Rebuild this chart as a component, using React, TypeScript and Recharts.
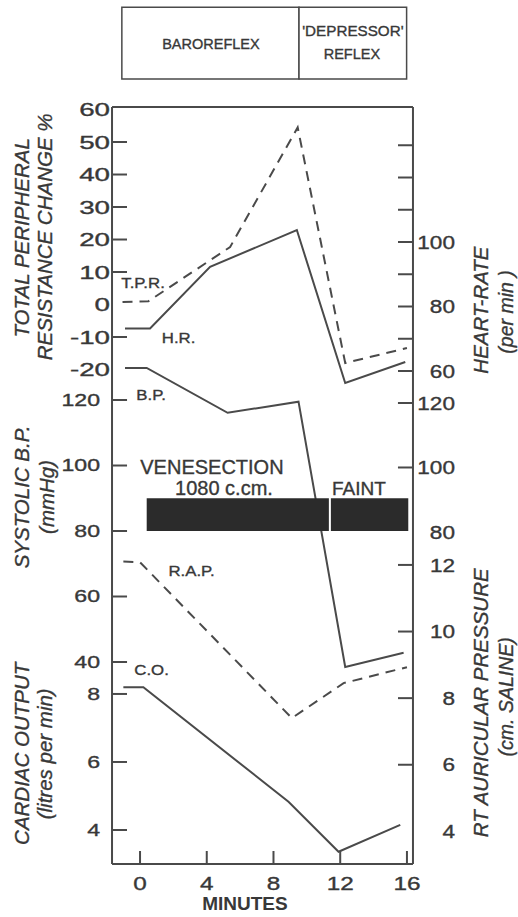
import React from 'react';
import { LineChart, Line, XAxis, YAxis, ReferenceArea, ReferenceDot } from 'recharts';

// ---------------- data ----------------
const MINUTE_TICKS = [0, 4, 8, 12, 16];
const TPR_TICKS_MARKED = [-10, 10, 20, 30, 40, 50];
const TPR_TICKS_UNMARKED = [-20, 0, 60];
const BP_LEFT_TICKS = [40, 60, 80, 100, 120];
const CO_TICKS = [4, 6, 8];
const HR_TICKS = [60, 70, 80, 90, 100, 110, 120, 130];
const HR_LABELLED = [60, 80, 100];
const BP_RIGHT_TICKS_MARKED = [100, 120];
const BP_RIGHT_TICKS_UNMARKED = [80];
const RAP_TICKS_MARKED = [6, 8, 10, 12];
const RAP_TICKS_UNMARKED = [4];

const tprMinutes = [-1.05, 0.5, 5.4, 9.45, 12.3, 16.0];
const tprValues = [0.8, 1.0, 17.7, 54.5, -18.0, -13.4];
const hrMinutes = [-0.9, 0.6, 4.2, 9.4, 12.3, 15.9];
const hrValues = [73.2, 73.2, 92.3, 103.7, 56.3, 62.8];
const bpMinutes = [-0.9, 0.4, 5.25, 9.5, 12.3, 15.8];
const bpValues = [129.8, 129.8, 116.1, 119.5, 38.5, 42.8];
const rapMinutes = [-1.0, 0.0, 9.1, 12.2, 16.0];
const rapValues = [12.1, 12.08, 7.4, 8.45, 8.93];
const coMinutes = [-1.0, 0.2, 8.9, 11.9, 15.6];
const coValues = [8.2, 8.2, 4.83, 3.36, 4.15];

const venesectionMinutes = [0.4, 11.32];
const faintMinutes = [11.44, 16.08];
const bleedBandMmHg = [80, 90];
const baroreflexMinutes = [-1.09, 9.53];
const depressorMinutes = [9.53, 15.98];

// ---------------- axis domains ----------------
const X_DOMAIN: [number, number] = [-1.678, 16.36];
const TPR_DOMAIN: [number, number] = [-172.15, 60.77];
const BPL_DOMAIN: [number, number] = [-21.68, 209.47];
const CO_DOMAIN: [number, number] = [3.0, 25.26];
const HR_DOMAIN: [number, number] = [-92.87, 141.86];
const BPR_DOMAIN: [number, number] = [-22.95, 211.78];
const RAP_DOMAIN: [number, number] = [3.02, 25.75];
const PHASE_BAND_TPR = [69.4, 91.45];

const toPoints = (ts: number[], vs: number[]) => ts.map((t, i) => ({ t, v: vs[i] }));
const tprData = toPoints(tprMinutes, tprValues);
const hrData = toPoints(hrMinutes, hrValues);
const bpData = toPoints(bpMinutes, bpValues);
const rapData = toPoints(rapMinutes, rapValues);
const coData = toPoints(coMinutes, coValues);

// ---------------- styles ----------------
const FONT = '"Liberation Sans", Arial, Helvetica, sans-serif';
const INK = '#383838';
const STROKE = '#4a4a4a';
const BAR = '#2b2b2b';
const DASH = '10 7';
const THIN = 0.01;
const HEAVY = 0.35;

function numTick(size: number, sx: number, anchor: 'start' | 'end' | 'middle', dy: string, show?: number[]) {
  return (props: any) => {
    const { x, y, payload } = props;
    const v = payload.value;
    if (show && !show.includes(v)) return <g />;
    return (
      <text
        transform={`translate(${x},${y}) scale(${sx},1)`}
        textAnchor={anchor}
        dy={dy}
        fontSize={size}
        fontFamily={FONT}
        fill={INK}
        stroke={INK}
        strokeWidth={HEAVY}
      >
        {String(v)}
      </text>
    );
  };
}

type Note = {
  text: string;
  x: number;
  y: number;
  axis: string;
  size: number;
  sx?: number;
  italic?: boolean;
  bold?: boolean;
  rotate?: boolean;
};

const NOTES: Note[] = [
  // phase boxes
  { text: 'BAROREFLEX', x: 4.25, y: 80.15, axis: 'tpr', size: 14.5 },
  { text: "'DEPRESSOR'", x: 12.76, y: 84.15, axis: 'tpr', size: 14.5, sx: 1.05 },
  { text: 'REFLEX', x: 12.7, y: 77.08, axis: 'tpr', size: 14.5 },
  // series labels
  { text: 'T.P.R.', x: 0.18, y: 6.6, axis: 'tpr', size: 15, sx: 1.12 },
  { text: 'H.R.', x: 2.31, y: 70.2, axis: 'hr', size: 15, sx: 1.12 },
  { text: 'B.P.', x: 0.66, y: 121.5, axis: 'bpL', size: 15, sx: 1.12 },
  { text: 'R.A.P.', x: 3.09, y: 11.82, axis: 'rap', size: 15, sx: 1.12 },
  { text: 'C.O.', x: 0.69, y: 8.71, axis: 'co', size: 15, sx: 1.12 },
  // bar labels
  { text: 'VENESECTION', x: 4.31, y: 99.5, axis: 'bpL', size: 20 },
  { text: '1080  c.cm.', x: 5.03, y: 93.1, axis: 'bpL', size: 20 },
  { text: 'FAINT', x: 13.12, y: 93.1, axis: 'bpL', size: 19 },
  // axis titles
  { text: 'TOTAL PERIPHERAL', x: -7.13, y: 20.5, axis: 'tpr', size: 20.5, italic: true, rotate: true },
  { text: 'RESISTANCE CHANGE %', x: -5.72, y: 20.8, axis: 'tpr', size: 20.5, italic: true, rotate: true },
  { text: 'SYSTOLIC B.P.', x: -7.13, y: 90.4, axis: 'bpL', size: 20.5, italic: true, rotate: true },
  { text: '(mmHg)', x: -5.6, y: 90.4, axis: 'bpL', size: 20.5, italic: true, rotate: true },
  { text: 'CARDIAC OUTPUT', x: -7.13, y: 6.24, axis: 'co', size: 20.5, italic: true, rotate: true },
  { text: '(litres per min)', x: -5.7, y: 6.24, axis: 'co', size: 20.5, italic: true, rotate: true },
  { text: 'HEART-RATE', x: 20.43, y: 78.9, axis: 'hr', size: 20.5, italic: true, rotate: true },
  { text: '(per min )', x: 21.95, y: 78.3, axis: 'hr', size: 19.5, italic: true, rotate: true },
  { text: 'RT AURICULAR PRESSURE', x: 20.43, y: 7.86, axis: 'rap', size: 20.5, italic: true, rotate: true },
  { text: '(cm. SALINE)', x: 21.95, y: 8.04, axis: 'rap', size: 19.5, italic: true, rotate: true },
  { text: 'MINUTES', x: 6.29, y: -184.2, axis: 'tpr', size: 19, bold: true },
];

const renderNote = (n: Note) => (props: any) => {
  const vb = props.viewBox || { x: 0, y: 0, width: 0, height: 0 };
  const cx = vb.x + (vb.width || 0) / 2;
  const cy = vb.y + (vb.height || 0) / 2;
  const sx = n.sx || 1;
  const tf = n.rotate
    ? `translate(${cx},${cy}) rotate(-90)`
    : `translate(${cx},${cy}) scale(${sx},1)`;
  return (
    <text
      x={0}
      y={0}
      transform={tf}
      textAnchor="middle"
      dominantBaseline="central"
      fontSize={n.size}
      fontFamily={FONT}
      fontStyle={n.italic ? 'italic' : 'normal'}
      fontWeight={n.bold ? 'bold' : 'normal'}
      fill={INK}
      stroke={n.bold ? 'none' : INK}
      strokeWidth={HEAVY}
    >
      {n.text}
    </text>
  );
};

const tickLine = { stroke: STROKE, strokeWidth: 2 };
const axisLine = { stroke: STROKE, strokeWidth: 2 };

const TPR_TICK = numTick(18.5, 1.5, 'end', '0.36em');
const LEFT_TICK = numTick(16.5, 1.4, 'end', '0.36em');
const RIGHT_TICK = numTick(18.5, 1.22, 'end', '0.36em');

export default function App() {
  return (
    <div style={{ position: 'absolute', left: 0, top: 0, background: '#fff' }}>
      <LineChart width={518} height={917} margin={{ top: 107, right: 105, bottom: 53, left: 112 }}>
        <XAxis
          xAxisId={0}
          type="number"
          dataKey="t"
          domain={X_DOMAIN}
          allowDataOverflow
          ticks={MINUTE_TICKS}
          interval={0}
          height={THIN}
          tickSize={-13}
          tickMargin={26}
          axisLine={axisLine}
          tickLine={tickLine}
          tick={numTick(18, 1.35, 'middle', '0.71em')}
        />
        <XAxis
          xAxisId="top"
          orientation="top"
          type="number"
          dataKey="t"
          domain={X_DOMAIN}
          allowDataOverflow
          height={THIN}
          tick={false}
          tickLine={false}
          axisLine={axisLine}
        />
        <YAxis
          yAxisId="tpr"
          type="number"
          domain={TPR_DOMAIN}
          allowDataOverflow
          ticks={TPR_TICKS_MARKED}
          interval={0}
          width={THIN}
          tickSize={-15}
          tickMargin={17}
          axisLine={axisLine}
          tickLine={tickLine}
          tick={TPR_TICK}
        />
        <YAxis
          yAxisId="tprLabels"
          type="number"
          domain={TPR_DOMAIN}
          allowDataOverflow
          ticks={TPR_TICKS_UNMARKED}
          interval={0}
          width={THIN}
          tickSize={-15}
          tickMargin={17}
          axisLine={false}
          tickLine={false}
          tick={TPR_TICK}
        />
        <YAxis
          yAxisId="bpL"
          type="number"
          domain={BPL_DOMAIN}
          allowDataOverflow
          ticks={BP_LEFT_TICKS}
          interval={0}
          width={THIN}
          tickSize={-15}
          tickMargin={27}
          axisLine={false}
          tickLine={tickLine}
          tick={LEFT_TICK}
        />
        <YAxis
          yAxisId="co"
          type="number"
          domain={CO_DOMAIN}
          allowDataOverflow
          ticks={CO_TICKS}
          interval={0}
          width={THIN}
          tickSize={-15}
          tickMargin={27}
          axisLine={false}
          tickLine={tickLine}
          tick={LEFT_TICK}
        />
        <YAxis
          yAxisId="hr"
          orientation="right"
          type="number"
          domain={HR_DOMAIN}
          allowDataOverflow
          ticks={HR_TICKS}
          interval={0}
          width={THIN}
          tickSize={-15}
          tickMargin={57}
          axisLine={axisLine}
          tickLine={tickLine}
          tick={numTick(18.5, 1.22, 'end', '0.36em', HR_LABELLED)}
        />
        <YAxis
          yAxisId="bpR"
          orientation="right"
          type="number"
          domain={BPR_DOMAIN}
          allowDataOverflow
          ticks={BP_RIGHT_TICKS_MARKED}
          interval={0}
          width={THIN}
          tickSize={-15}
          tickMargin={57}
          axisLine={false}
          tickLine={tickLine}
          tick={RIGHT_TICK}
        />
        <YAxis
          yAxisId="bpRLabels"
          orientation="right"
          type="number"
          domain={BPR_DOMAIN}
          allowDataOverflow
          ticks={BP_RIGHT_TICKS_UNMARKED}
          interval={0}
          width={THIN}
          tickSize={-15}
          tickMargin={57}
          axisLine={false}
          tickLine={false}
          tick={RIGHT_TICK}
        />
        <YAxis
          yAxisId="rap"
          orientation="right"
          type="number"
          domain={RAP_DOMAIN}
          allowDataOverflow
          ticks={RAP_TICKS_MARKED}
          interval={0}
          width={THIN}
          tickSize={-15}
          tickMargin={57}
          axisLine={false}
          tickLine={tickLine}
          tick={RIGHT_TICK}
        />
        <YAxis
          yAxisId="rapLabels"
          orientation="right"
          type="number"
          domain={RAP_DOMAIN}
          allowDataOverflow
          ticks={RAP_TICKS_UNMARKED}
          interval={0}
          width={THIN}
          tickSize={-15}
          tickMargin={57}
          axisLine={false}
          tickLine={false}
          tick={RIGHT_TICK}
        />

        {/* phase boxes above the plot */}
        <ReferenceArea
          yAxisId="tpr"
          x1={baroreflexMinutes[0]}
          x2={baroreflexMinutes[1]}
          y1={PHASE_BAND_TPR[0]}
          y2={PHASE_BAND_TPR[1]}
          ifOverflow="visible"
          fill="#ffffff"
          fillOpacity={1}
          stroke={STROKE}
          strokeWidth={1.5}
        />
        <ReferenceArea
          yAxisId="tpr"
          x1={depressorMinutes[0]}
          x2={depressorMinutes[1]}
          y1={PHASE_BAND_TPR[0]}
          y2={PHASE_BAND_TPR[1]}
          ifOverflow="visible"
          fill="#ffffff"
          fillOpacity={1}
          stroke={STROKE}
          strokeWidth={1.5}
        />

        <Line data={tprData} dataKey="v" yAxisId="tpr" type="linear" stroke={STROKE} strokeWidth={2} strokeDasharray={DASH} dot={false} activeDot={false} isAnimationActive={false} />
        <Line data={hrData} dataKey="v" yAxisId="hr" type="linear" stroke={STROKE} strokeWidth={2} dot={false} activeDot={false} isAnimationActive={false} />
        <Line data={bpData} dataKey="v" yAxisId="bpL" type="linear" stroke={STROKE} strokeWidth={2} dot={false} activeDot={false} isAnimationActive={false} />
        <Line data={rapData} dataKey="v" yAxisId="rap" type="linear" stroke={STROKE} strokeWidth={2} strokeDasharray={DASH} dot={false} activeDot={false} isAnimationActive={false} />
        <Line data={coData} dataKey="v" yAxisId="co" type="linear" stroke={STROKE} strokeWidth={2} dot={false} activeDot={false} isAnimationActive={false} />

        {/* venesection / faint bars */}
        <ReferenceArea
          yAxisId="bpL"
          x1={venesectionMinutes[0]}
          x2={venesectionMinutes[1]}
          y1={bleedBandMmHg[0]}
          y2={bleedBandMmHg[1]}
          fill={BAR}
          fillOpacity={1}
          stroke="none"
          {...({ zIndex: 450 } as any)}
        />
        <ReferenceArea
          yAxisId="bpL"
          x1={faintMinutes[0]}
          x2={faintMinutes[1]}
          y1={bleedBandMmHg[0]}
          y2={bleedBandMmHg[1]}
          fill={BAR}
          fillOpacity={1}
          stroke="none"
          {...({ zIndex: 450 } as any)}
        />

        {NOTES.map((n, i) => (
          <ReferenceDot
            key={i}
            x={n.x}
            y={n.y}
            yAxisId={n.axis}
            r={0}
            fill="none"
            stroke="none"
            ifOverflow="visible"
            label={renderNote(n)}
          />
        ))}
      </LineChart>
    </div>
  );
}
